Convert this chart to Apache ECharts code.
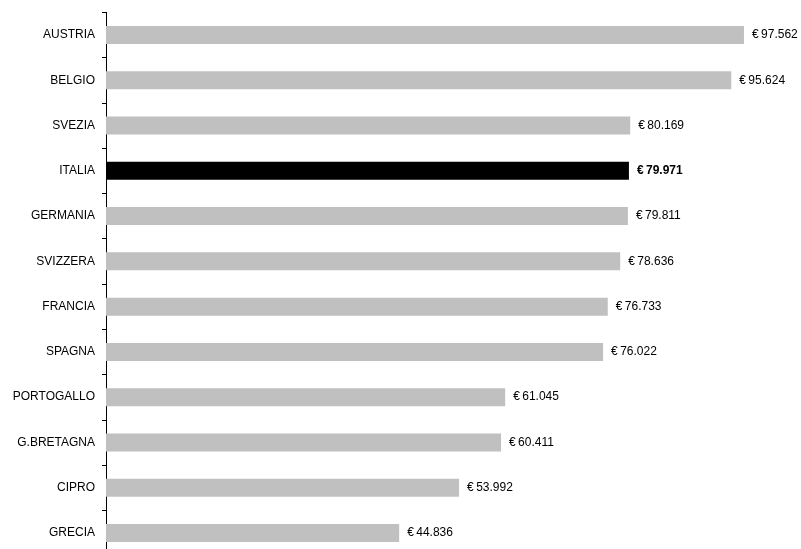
<!DOCTYPE html>
<html>
<head>
<meta charset="utf-8">
<script src="https://cdn.jsdelivr.net/npm/echarts@6/dist/echarts.min.js"></script>
<style>
  html, body { margin: 0; padding: 0; background: #fff; }
  #chart { width: 801px; height: 549px; }
</style>
</head>
<body>
<div id="chart"></div>
<script>
// Countries, top to bottom
const countries = ['AUSTRIA', 'BELGIO', 'SVEZIA', 'ITALIA', 'GERMANIA', 'SVIZZERA',
  'FRANCIA', 'SPAGNA', 'PORTOGALLO', 'G.BRETAGNA', 'CIPRO', 'GRECIA'];
// Amounts in euro
const amounts = [97562, 95624, 80169, 79971, 79811, 78636, 76733, 76022, 61045, 60411, 53992, 44836];
const highlight = 'ITALIA';

function fmtEuro(v) {
  return '\u20AC\u2009' + String(v).replace(/\B(?=(\d{3})+(?!\d))/g, '.');
}

const chart = echarts.init(document.getElementById('chart'), null, { renderer: 'canvas' });

chart.setOption({
  animation: false,
  backgroundColor: '#ffffff',
  textStyle: { fontFamily: 'Liberation Sans, Arial, sans-serif' },
  grid: { left: 106, top: 12.4, height: 543.2, width: 653.9, outerBoundsMode: 'none' },
  xAxis: {
    type: 'value', min: 0, max: 100000, show: false
  },
  yAxis: {
    type: 'category',
    inverse: true,
    data: countries,
    axisLine: { show: true, lineStyle: { color: '#000', width: 1 } },
    axisTick: { show: true, length: 4, lineStyle: { color: '#000' } },
    axisLabel: { color: '#000', fontSize: 12, margin: 11, fontFamily: 'Liberation Sans, Arial, sans-serif' }
  },
  series: [{
    type: 'bar',
    barWidth: 18,
    data: countries.map((c, i) => ({
      value: amounts[i],
      itemStyle: { color: c === highlight ? '#000000' : '#c0c0c0' },
      label: c === highlight ? { fontWeight: 'bold' } : undefined
    })),
    label: {
      show: true,
      position: 'right',
      distance: 8,
      color: '#000',
      fontSize: 12,
      fontFamily: 'Liberation Sans, Arial, sans-serif',
      formatter: p => fmtEuro(p.value)
    }
  }]
});
</script>
</body>
</html>
